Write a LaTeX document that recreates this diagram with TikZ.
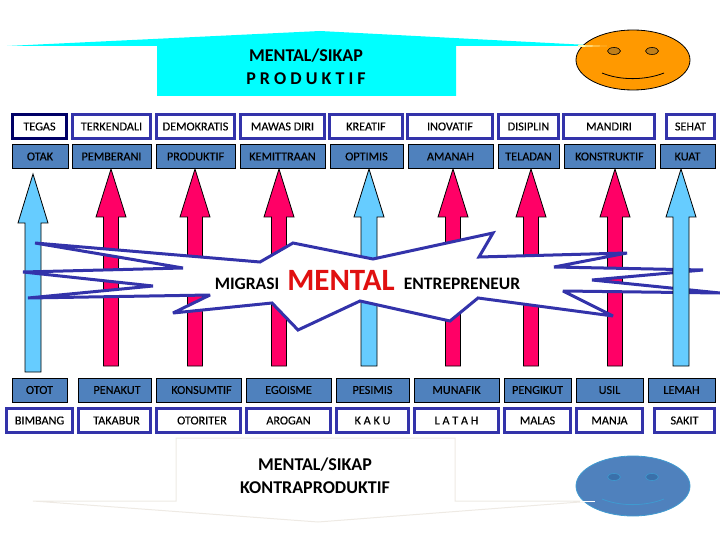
\documentclass[tikz,border=0pt]{standalone}
\usepackage{fontspec}
\setmainfont{Carlito}
\newfontfamily\boxfont{Carlito}[FakeBold=0.25]
\usetikzlibrary{shapes.geometric}
\definecolor{wallblue}{HTML}{3333AA}
\definecolor{navyline}{HTML}{000066}
\definecolor{boxblue}{HTML}{4F81BD}
\definecolor{arrowred}{HTML}{FF0066}
\definecolor{arrowsky}{HTML}{66CCFF}
\definecolor{bannercyan}{HTML}{00FFFF}
\definecolor{faceorange}{HTML}{FF9900}
\definecolor{eyebrown}{HTML}{C07F1A}
\definecolor{paleline}{HTML}{EEEAE4}
\definecolor{mentalred}{HTML}{E01010}
\definecolor{faceline}{HTML}{3F9AD0}
\definecolor{eyeblue}{HTML}{3A70AA}
\begin{document}
\begin{tikzpicture}[x=1pt,y=1pt]
\tikzset{
  every node/.style={inner sep=0pt,font=\boxfont\fontsize{12.2}{14}\selectfont},
  goodbox/.style={draw=wallblue,fill=white,line width=3pt,minimum height=24},
  darkbox/.style={draw=black,fill=boxblue,line width=1pt,minimum height=24},
  redarrow/.style={draw=black,fill=arrowred,line width=0.8pt},
  skyarrow/.style={draw=black,fill=arrowsky,line width=0.8pt},
  bigtitle/.style={align=center,font=\bfseries\fontsize{18}{22.5}\selectfont},
  burstword/.style={anchor=base,font=\bfseries\fontsize{17.5}{20}\selectfont},
  faceshape/.style={ellipse,line width=0.8pt,minimum width=114,minimum height=60},
  eyeshape/.style={ellipse,line width=0.6pt,minimum width=13,minimum height=7}
}
\useasboundingbox (0,0) rectangle (720,-540);
% top banner
\fill [bannercyan] (7,-46) -- (320,-31) -- (607,-46) -- (456,-46) -- (456,-96) -- (157,-96) -- (157,-46) -- cycle;
% orange face
\node [faceshape,draw=black,fill=faceorange] (goodface) at (633,-60) {};
\fill [yellow!30!white] (578,-45) -- (607,-46) -- (578,-47) -- cycle;
\node [eyeshape,draw=black,fill=eyebrown] (goodeyel) at (614,-51) {};
\node [eyeshape,draw=black,fill=eyebrown] (goodeyer) at (652,-51) {};
\draw [black,line width=0.8pt] (602,-73) .. controls (620,-80.5) and (645,-80.5) .. (664,-73);
\node [bigtitle] (goodtitle) at (306,-67) {MENTAL/SIKAP\\P R O D U K T I F};
% block arrows
\draw [skyarrow] (33,-174) -- (48,-223) -- (41,-223) -- (41,-372) -- (25,-372) -- (25,-223) -- (18,-223) -- cycle;
\draw [redarrow] (111,-169) -- (126,-217) -- (118.5,-217) -- (118.5,-366) -- (103.5,-366) -- (103.5,-217) -- (96,-217) -- cycle;
\draw [redarrow] (195,-169) -- (210,-217) -- (202.5,-217) -- (202.5,-366) -- (187.5,-366) -- (187.5,-217) -- (180,-217) -- cycle;
\draw [redarrow] (279,-169) -- (294,-217) -- (286.5,-217) -- (286.5,-366) -- (271.5,-366) -- (271.5,-217) -- (264,-217) -- cycle;
\draw [skyarrow] (369,-169) -- (384,-217) -- (377,-217) -- (377,-366) -- (361,-366) -- (361,-217) -- (354,-217) -- cycle;
\draw [redarrow] (453,-169) -- (468,-217) -- (460.5,-217) -- (460.5,-366) -- (445.5,-366) -- (445.5,-217) -- (438,-217) -- cycle;
\draw [redarrow] (531,-169) -- (546,-217) -- (538.5,-217) -- (538.5,-366) -- (523.5,-366) -- (523.5,-217) -- (516,-217) -- cycle;
\draw [redarrow] (615,-169) -- (630,-217) -- (622.5,-217) -- (622.5,-366) -- (607.5,-366) -- (607.5,-217) -- (600,-217) -- cycle;
% burst
\draw [draw=wallblue,fill=white,line width=3pt,miter limit=3] (35,-243) -- (260,-262) -- (293,-243) -- (373,-259) -- (493,-233) -- (479,-257) -- (627,-253) -- (554,-267) -- (703,-270) -- (592,-280) -- (720,-293) -- (563,-291) -- (613,-316) -- (478,-298) -- (450,-321) -- (360,-301) -- (298,-330) -- (272,-303) -- (173,-313) -- (210,-295) -- (28,-298) -- (153,-286) -- (23,-272) -- (183,-268) -- cycle;
\draw [skyarrow] (681,-169) -- (696,-217) -- (689,-217) -- (689,-366) -- (673,-366) -- (673,-217) -- (666,-217) -- cycle;
\node [burstword] (migrasi) at (247,-289.5) {MIGRASI};
\node [burstword,text=mentalred,font=\bfseries\fontsize{31}{36}\selectfont] (mental) at (341,-290) {MENTAL};
\node [burstword] (entre) at (462,-289.5) {ENTREPRENEUR};
% top rows
\node [goodbox,draw=navyline,minimum width=54] (tegas) at (39.5,-126.5) {TEGAS};
\node [goodbox,minimum width=78] (terkendali) at (111.5,-126.5) {TERKENDALI};
\node [goodbox,minimum width=78] (demokratis) at (195.5,-126.5) {DEMOKRATIS};
\node [goodbox,minimum width=84] (mawas) at (282.5,-126.5) {MAWAS DIRI};
\node [goodbox,minimum width=73] (kreatif) at (366,-126.5) {KREATIF};
\node [goodbox,minimum width=85] (inovatif) at (450,-126.5) {INOVATIF};
\node [goodbox,minimum width=60] (disiplin) at (528.5,-126.5) {DISIPLIN};
\node [goodbox,minimum width=91] (mandiri) at (609,-126.5) {MANDIRI};
\node [goodbox,minimum width=48] (sehat) at (690.5,-126.5) {SEHAT};
\node [darkbox,minimum width=56] (otak) at (40,-156.5) {OTAK};
\node [darkbox,minimum width=79] (pemberani) at (111.5,-156.5) {PEMBERANI};
\node [darkbox,minimum width=79] (produktif) at (195.5,-156.5) {PRODUKTIF};
\node [darkbox,minimum width=85] (kemitraan) at (282.5,-156.5) {KEMITTRAAN};
\node [darkbox,minimum width=73] (optimis) at (366.5,-156.5) {OPTIMIS};
\node [darkbox,minimum width=85] (amanah) at (450.5,-156.5) {AMANAH};
\node [darkbox,minimum width=61] (teladan) at (528.5,-156.5) {TELADAN};
\node [darkbox,minimum width=91] (konstruktif) at (609.5,-156.5) {KONSTRUKTIF};
\node [darkbox,minimum width=55] (kuat) at (687.5,-156.5) {KUAT};
% bottom rows
\node [darkbox,minimum width=55] (otot) at (39.5,-390) {OTOT};
\node [darkbox,minimum width=73] (penakut) at (114.5,-390) {\hspace*{5pt}PENAKUT};
\node [darkbox,minimum width=85] (konsumtif) at (198.5,-390) {\hspace*{6pt}\raisebox{-2pt}{KONSUMTIF}};
\node [darkbox,minimum width=85] (egoisme) at (288.5,-390) {EGOISME};
\node [darkbox,minimum width=73] (pesimis) at (372.5,-390) {PESIMIS};
\node [darkbox,minimum width=85] (munafik) at (456.5,-390) {MUNAFIK};
\node [darkbox,minimum width=67] (pengikut) at (537.5,-390) {PENGIKUT};
\node [darkbox,minimum width=67] (usil) at (609.5,-390) {USIL};
\node [darkbox,minimum width=67] (lemah) at (681.5,-390) {LEMAH};
\node [goodbox,minimum width=66] (bimbang) at (39.5,-420.5) {BIMBANG};
\node [goodbox,minimum width=72] (takabur) at (114.5,-420.5) {\hspace*{4pt}TAKABUR};
\node [goodbox,minimum width=84] (otoriter) at (198.5,-420.5) {\hspace*{7pt}\raisebox{-2pt}{OTORITER}};
\node [goodbox,minimum width=84] (arogan) at (288.5,-420.5) {AROGAN};
\node [goodbox,minimum width=72] (kaku) at (372.5,-420.5) {K A K U};
\node [goodbox,minimum width=84] (latah) at (456.5,-420.5) {L A T A H};
\node [goodbox,minimum width=66] (malas) at (537.5,-420.5) {MALAS};
\node [goodbox,minimum width=66] (manja) at (609.5,-420.5) {MANJA};
\node [goodbox,minimum width=60] (sakit) at (684.5,-420.5) {SAKIT};
% bottom banner
\draw [paleline,fill=white,line width=1pt] (33,-501) -- (176,-501) -- (176,-438) -- (455,-438) -- (455,-501) -- (593,-501) -- (318,-522) -- cycle;
\node [bigtitle] (badtitle) at (315,-475.5) {MENTAL/SIKAP\\KONTRAPRODUKTIF};
% blue face
\node [faceshape,draw=faceline,fill=boxblue] (badface) at (633,-486) {};
\draw [white,line width=1pt] (580,-501) -- (595,-501);
\node [eyeshape,draw=faceline,fill=eyeblue] (badeyel) at (614,-477) {};
\node [eyeshape,draw=faceline,fill=eyeblue] (badeyer) at (652,-477) {};
\draw [faceline,line width=0.8pt] (602,-499) .. controls (620,-506.5) and (645,-506.5) .. (664,-499);
\end{tikzpicture}
\end{document}
